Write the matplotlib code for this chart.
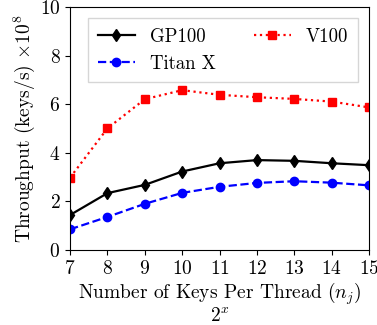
import matplotlib
matplotlib.use('Agg')
import matplotlib.pyplot as plt

plt.rcParams['font.family'] = 'cmr10'
plt.rcParams['mathtext.fontset'] = 'cm'
plt.rcParams['axes.formatter.use_mathtext'] = True

x = [7, 8, 9, 10, 11, 12, 13, 14, 15]
gp100 = [1.44, 2.34, 2.68, 3.23, 3.57, 3.70, 3.67, 3.57, 3.49]
titanx = [0.85, 1.36, 1.90, 2.35, 2.60, 2.76, 2.83, 2.77, 2.66]
v100 = [2.98, 5.01, 6.21, 6.58, 6.39, 6.29, 6.22, 6.11, 5.87]

fig = plt.figure(figsize=(3.77, 3.25), dpi=100)
ax = fig.add_axes([0.186, 0.231, 0.793, 0.747])

ax.plot(x, gp100, 'k-d', lw=1.6, ms=6, label='GP100')
ax.plot(x, titanx, 'b--o', lw=1.6, ms=6, label='Titan X')
ax.plot(x, v100, 'r:s', lw=1.6, ms=6, label='V100')

ax.set_xlim(7, 15)
ax.set_ylim(0, 10)
ax.set_xticks(x)
ax.set_yticks([0, 2, 4, 6, 8, 10])
ax.tick_params(labelsize=14)
ax.set_xlabel('Number of Keys Per Thread ($n_j$)\n$2^x$', fontsize=14, labelpad=2, linespacing=1.0)
ax.set_ylabel(r'Throughput (keys/s) $\times 10^8$', fontsize=14, labelpad=2)
ax.legend(ncol=2, loc='upper right', fontsize=13.5, columnspacing=2.0, fancybox=False,
          labelspacing=0.5, borderpad=0.5, borderaxespad=0.6)

fig.savefig('out.png', dpi=100)
